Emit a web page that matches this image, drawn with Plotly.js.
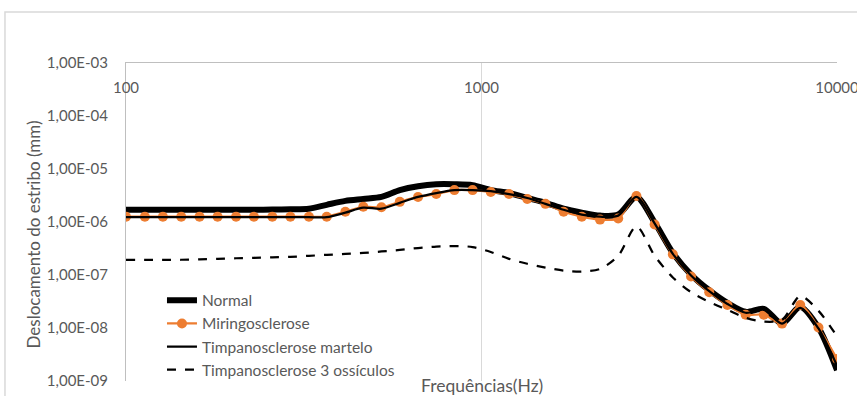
<!DOCTYPE html>
<html>
<head>
<meta charset="utf-8">
<script src="https://cdn.plot.ly/plotly-3.0.1.min.js"></script>
<style>
html,body{margin:0;padding:0;background:#fff;}
#chart{width:857px;height:396px;}
</style>
</head>
<body>
<div id="chart"></div>
<script>
// Frequencies (Hz)
var freq = [100,113,127,143,161,181,204,229,258,290,327,367,414,465,523,589,663,746,839,944,
            1062,1195,1345,1513,1702,1915,2155,2424,2728,3069,3453,3885,4371,4918,5534,6226,7005,7882,8868,10000];

// Stapes displacement (mm)
var normal = [1.70e-6,1.70e-6,1.70e-6,1.70e-6,1.70e-6,1.70e-6,1.70e-6,1.70e-6,1.72e-6,1.74e-6,
              1.78e-6,2.11e-6,2.50e-6,2.72e-6,2.97e-6,4.0e-6,4.74e-6,5.16e-6,5.16e-6,4.95e-6,
              4.0e-6,3.52e-6,2.84e-6,2.30e-6,1.78e-6,1.50e-6,1.32e-6,1.38e-6,2.97e-6,9.8e-7,
              2.61e-7,1.02e-7,5.16e-8,2.97e-8,2.02e-8,2.3e-8,1.21e-8,2.50e-8,1.02e-8,1.6e-9];

var miringo = [1.26e-6,1.26e-6,1.26e-6,1.26e-6,1.26e-6,1.26e-6,1.26e-6,1.26e-6,1.26e-6,1.26e-6,
               1.26e-6,1.26e-6,1.56e-6,1.94e-6,1.90e-6,2.40e-6,2.97e-6,3.37e-6,4.0e-6,4.0e-6,
               3.67e-6,3.37e-6,2.72e-6,2.20e-6,1.56e-6,1.26e-6,1.11e-6,1.16e-6,3.10e-6,9.0e-7,
               2.45e-7,9.4e-8,4.74e-8,2.72e-8,1.78e-8,1.78e-8,1.21e-8,2.72e-8,1.02e-8,2.61e-9];

var martelo = [1.23e-6,1.23e-6,1.23e-6,1.23e-6,1.23e-6,1.23e-6,1.23e-6,1.23e-6,1.23e-6,1.23e-6,
               1.23e-6,1.23e-6,1.50e-6,1.86e-6,1.78e-6,2.30e-6,2.97e-6,3.52e-6,4.0e-6,4.0e-6,
               3.83e-6,3.37e-6,2.84e-6,2.20e-6,1.70e-6,1.38e-6,1.26e-6,1.32e-6,2.97e-6,9.4e-7,
               2.50e-7,9.8e-8,4.95e-8,2.84e-8,1.94e-8,2.20e-8,1.21e-8,2.40e-8,9.8e-9,1.94e-9];

var ossiculos = [1.94e-7,1.94e-7,1.94e-7,1.94e-7,1.98e-7,2.02e-7,2.07e-7,2.11e-7,2.16e-7,2.20e-7,
                 2.30e-7,2.40e-7,2.50e-7,2.61e-7,2.78e-7,2.97e-7,3.23e-7,3.44e-7,3.52e-7,3.37e-7,
                 2.72e-7,2.02e-7,1.63e-7,1.38e-7,1.21e-7,1.16e-7,1.30e-7,2.30e-7,8.26e-7,2.30e-7,
                 9.0e-8,4.74e-8,3.10e-8,2.20e-8,1.56e-8,1.32e-8,1.43e-8,4.0e-8,2.11e-8,6.96e-9];

var seriesNames = ["Normal","Miringosclerose","Timpanosclerose martelo","Timpanosclerose 3 ossículos"];

var yTickVals = [1e-9,1e-8,1e-7,1e-6,1e-5,1e-4,1e-3];
var yTickText = ["1,00E-09","1,00E-08","1,00E-07","1,00E-06","1,00E-05","1,00E-04","1,00E-03"];
var xTickVals = [100,1000,10000];
var xTickText = ["100","1000","10000"];

var FONT = "Lato, Carlito, Calibri, 'Liberation Sans', sans-serif";
var GRAY = "#595959";

var traces = [
  {x:freq, y:normal, name:seriesNames[0], mode:"lines",
   line:{color:"#000000", width:6, shape:"spline", smoothing:0.8}},
  {x:freq, y:miringo, name:seriesNames[1], mode:"lines+markers",
   line:{color:"#ED7D31", width:2.25, shape:"spline", smoothing:0.8},
   marker:{color:"#ED7D31", size:10, symbol:"circle"}},
  {x:freq, y:martelo, name:seriesNames[2], mode:"lines",
   line:{color:"#000000", width:2.25, shape:"spline", smoothing:0.8}},
  {x:freq, y:ossiculos, name:seriesNames[3], mode:"lines",
   line:{color:"#000000", width:2.25, dash:"dash", shape:"spline", smoothing:0.8}}
];

var layout = {
  width:857, height:396,
  margin:{l:126, r:20, t:63, b:9, pad:0},
  paper_bgcolor:"#ffffff", plot_bgcolor:"#ffffff",
  font:{family:FONT, size:15, color:GRAY},
  showlegend:true,
  legend:{x:0.0506, y:0.306, xanchor:"left", yanchor:"top", bgcolor:"rgba(0,0,0,0)",
          font:{family:FONT, size:15.5, color:GRAY}, tracegroupgap:0, itemwidth:30},
  xaxis:{type:"log", range:[2,4], side:"top", tickvals:xTickVals, ticktext:xTickText,
         ticks:"", ticklabelposition:"inside", ticklabeloverflow:"allow", ticklabelstandoff:19,
         showline:true, linecolor:"#bfbfbf", linewidth:1, showgrid:true, gridcolor:"#d9d9d9",
         gridwidth:1, zeroline:false, tickfont:{family:FONT, size:15, color:GRAY}},
  yaxis:{type:"log", range:[-9,-3], tickvals:yTickVals, ticktext:yTickText,
         ticks:"", ticklabelstandoff:14, showline:true, linecolor:"#bfbfbf", linewidth:1,
         showgrid:false, zeroline:false, tickfont:{family:FONT, size:15, color:GRAY}},
  annotations:[
    {text:"Frequências(Hz)", xref:"paper", yref:"paper", x:0.5, y:0, xanchor:"center", yanchor:"middle",
     yshift:-4, showarrow:false, font:{family:FONT, size:17.5, color:GRAY}},
    {text:"Deslocamento do estribo (mm)", xref:"paper", yref:"paper", x:-0.1308, y:0.4607,
     xanchor:"center", yanchor:"middle", textangle:-90, showarrow:false,
     font:{family:FONT, size:17, color:GRAY}}
  ],
  shapes:[
    {type:"rect", xref:"paper", yref:"paper", x0:-0.1702, x1:1.2, y0:-0.2, y1:1.1602,
     line:{color:"#d9d9d9", width:1.5}, fillcolor:"rgba(0,0,0,0)", layer:"below"}
  ]
};

Plotly.newPlot("chart", traces, layout, {displayModeBar:false, responsive:false});
</script>
</body>
</html>
